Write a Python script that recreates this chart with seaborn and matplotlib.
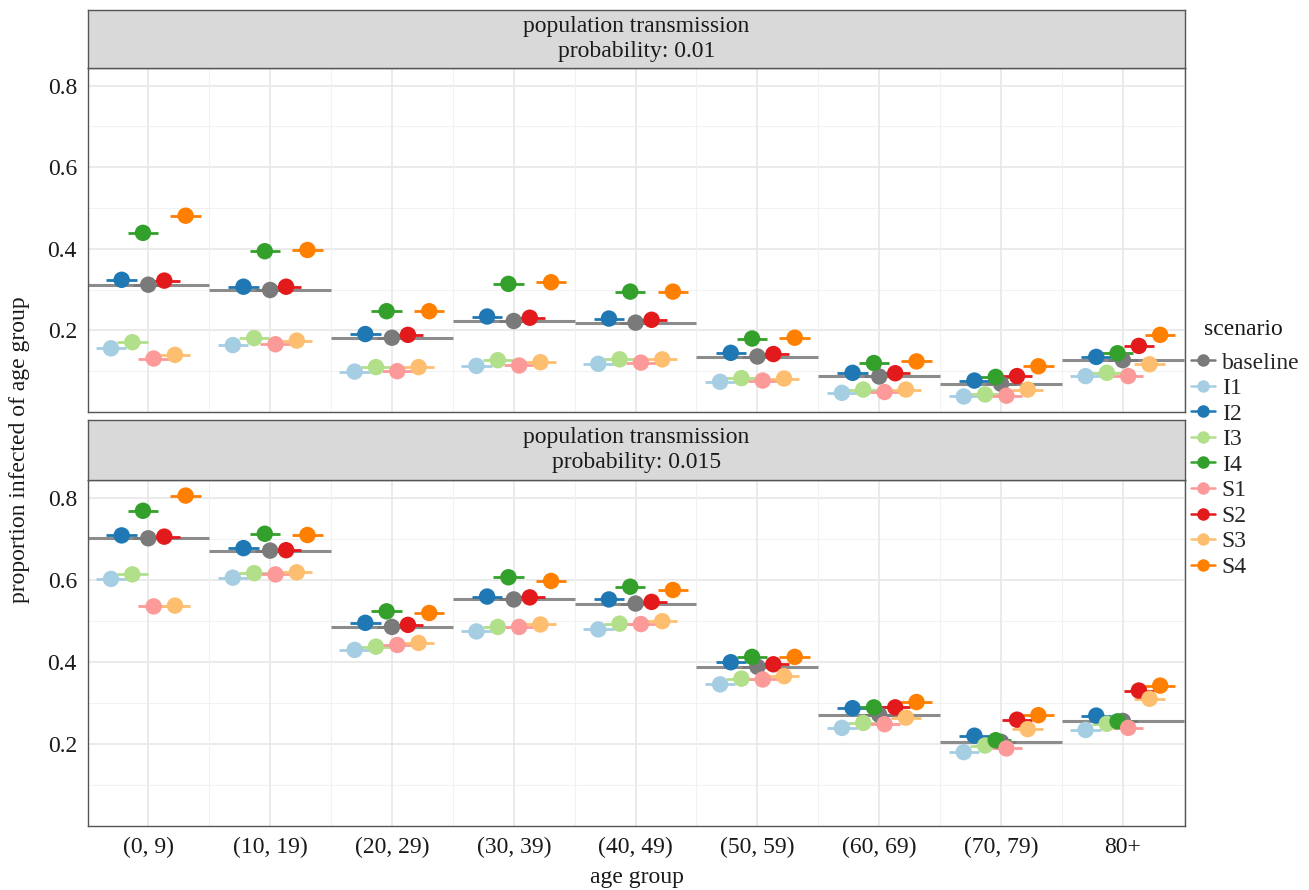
import numpy as np
import pandas as pd
import matplotlib
matplotlib.use("Agg")
import matplotlib.pyplot as plt
from matplotlib.lines import Line2D
import seaborn as sns

# ---------------- data ----------------
age_groups = ["(0, 9)", "(10, 19)", "(20, 29)", "(30, 39)", "(40, 49)",
              "(50, 59)", "(60, 69)", "(70, 79)", "80+"]
scenarios = ["baseline", "I1", "I2", "I3", "I4", "S1", "S2", "S3", "S4"]
panel_titles = ["population transmission\nprobability: 0.01",
                "population transmission\nprobability: 0.015"]

# panel 1: transmission probability 0.01
p01_baseline = [0.312, 0.299, 0.182, 0.223, 0.219, 0.136, 0.087, 0.069, 0.127]
p01_I1 = [0.156, 0.164, 0.099, 0.113, 0.118, 0.074, 0.047, 0.038, 0.088]
p01_I2 = [0.324, 0.307, 0.191, 0.234, 0.229, 0.145, 0.096, 0.077, 0.135]
p01_I3 = [0.171, 0.181, 0.110, 0.127, 0.129, 0.083, 0.055, 0.043, 0.096]
p01_I4 = [0.439, 0.394, 0.247, 0.314, 0.295, 0.180, 0.120, 0.086, 0.144]
p01_S1 = [0.131, 0.166, 0.100, 0.114, 0.121, 0.077, 0.049, 0.040, 0.088]
p01_S2 = [0.322, 0.307, 0.189, 0.231, 0.226, 0.142, 0.095, 0.088, 0.162]
p01_S3 = [0.140, 0.175, 0.110, 0.122, 0.129, 0.082, 0.055, 0.055, 0.117]
p01_S4 = [0.481, 0.397, 0.247, 0.318, 0.295, 0.182, 0.124, 0.112, 0.189]

# panel 2: transmission probability 0.015
p015_baseline = [0.701, 0.671, 0.485, 0.552, 0.542, 0.388, 0.271, 0.205, 0.256]
p015_I1 = [0.602, 0.605, 0.429, 0.474, 0.479, 0.345, 0.239, 0.180, 0.234]
p015_I2 = [0.708, 0.677, 0.495, 0.559, 0.552, 0.399, 0.287, 0.220, 0.269]
p015_I3 = [0.613, 0.616, 0.437, 0.485, 0.493, 0.359, 0.251, 0.196, 0.249]
p015_I4 = [0.768, 0.712, 0.523, 0.606, 0.583, 0.412, 0.289, 0.209, 0.255]
p015_S1 = [0.535, 0.613, 0.441, 0.485, 0.492, 0.357, 0.248, 0.189, 0.239]
p015_S2 = [0.705, 0.672, 0.490, 0.557, 0.546, 0.394, 0.289, 0.259, 0.330]
p015_S3 = [0.537, 0.618, 0.446, 0.491, 0.499, 0.365, 0.264, 0.236, 0.310]
p015_S4 = [0.805, 0.709, 0.519, 0.597, 0.575, 0.412, 0.302, 0.270, 0.342]

panel_data = [
    dict(zip(scenarios, [p01_baseline, p01_I1, p01_I2, p01_I3, p01_I4,
                         p01_S1, p01_S2, p01_S3, p01_S4])),
    dict(zip(scenarios, [p015_baseline, p015_I1, p015_I2, p015_I3, p015_I4,
                         p015_S1, p015_S2, p015_S3, p015_S4])),
]

# ---------------- style ----------------
sns.set_theme(style="white")
plt.rcParams["font.family"] = ["Liberation Serif", "DejaVu Serif"]

paired = sns.color_palette("Paired", 8)
palette = {"baseline": "#7a7a7a"}
for name, col in zip(scenarios[1:], paired):
    palette[name] = col

dodge_w = 0.0875
offsets = {"baseline": 0.0}
for i, name in enumerate(scenarios[1:]):
    offsets[name] = (i - 3.5) * dodge_w
seg_half = 0.125

W, H = 1309, 890
fig = plt.figure(figsize=(W / 100, H / 100), dpi=100)
fig.patch.set_facecolor("white")

left, right = 88 / W, 1185 / W
panels_px = [(68, 412, 10), (480, 826, 420)]  # plot top, plot bottom, strip top

FS = 17
for pi, (ptop, pbot, stop) in enumerate(panels_px):
    ax = fig.add_axes([left, 1 - pbot / H, right - left, (pbot - ptop) / H])
    data = panel_data[pi]
    rows = []
    for sc in scenarios:
        for gi, ag in enumerate(age_groups):
            rows.append({"scenario": sc, "age": ag, "gi": gi,
                         "x": gi + offsets[sc], "value": data[sc][gi]})
    df = pd.DataFrame(rows)

    # grid
    ax.set_axisbelow(True)
    for yv in [0.1, 0.3, 0.5, 0.7]:
        ax.axhline(yv, color="#f2f2f2", lw=0.8, zorder=0)
    for yv in [0.2, 0.4, 0.6, 0.8]:
        ax.axhline(yv, color="#e8e8e8", lw=1.2, zorder=0)
    for gi in range(len(age_groups)):
        ax.axvline(gi, color="#e8e8e8", lw=1.2, zorder=0)
        ax.axvline(gi + 0.5, color="#f2f2f2", lw=0.8, zorder=0)

    # baseline reference lines across each age group
    base = df[df.scenario == "baseline"]
    ax.hlines(base["value"], base["gi"] - 0.5, base["gi"] + 0.5,
              color="#8c8c8c", lw=2.2, zorder=1)

    # horizontal segments per point
    for sc in scenarios:
        sub = df[df.scenario == sc]
        ax.hlines(sub["value"], sub["x"] - seg_half, sub["x"] + seg_half,
                  color=palette[sc], lw=2.0, zorder=2)

    sns.scatterplot(data=df, x="x", y="value", hue="scenario",
                    hue_order=scenarios, palette=palette, s=140,
                    edgecolor="none", linewidth=0, legend=False, ax=ax,
                    zorder=3)

    ax.set_xlim(-0.495, 8.51)
    ax.set_ylim(0.0, 0.843)
    ax.set_yticks([0.2, 0.4, 0.6, 0.8])
    ax.set_yticklabels(["0.2", "0.4", "0.6", "0.8"], fontsize=FS, color="#1a1a1a")
    ax.set_xticks(range(len(age_groups)))
    if pi == 1:
        ax.set_xticklabels(age_groups, fontsize=FS, color="#1a1a1a")
    else:
        ax.set_xticklabels([])
    ax.tick_params(axis="both", which="both", length=4, width=0.8,
                   color="#333333", direction="out", pad=4)
    ax.tick_params(axis="x", length=4 if pi == 1 else 0)
    ax.set_xlabel("")
    ax.set_ylabel("")
    for sp in ax.spines.values():
        sp.set_visible(True)
        sp.set_color("#555555")
        sp.set_linewidth(1.0)

    # strip
    sax = fig.add_axes([left, 1 - ptop / H, right - left, (ptop - stop) / H])
    sax.set_xticks([])
    sax.set_yticks([])
    sax.set_facecolor("#d9d9d9")
    for sp in sax.spines.values():
        sp.set_color("#555555")
        sp.set_linewidth(1.0)
    sax.text(0.5, 0.5, panel_titles[pi], ha="center", va="center",
             fontsize=FS, color="#1a1a1a", transform=sax.transAxes,
             linespacing=1.2)

fig.text((left + right) / 2, 1 - 878 / H, "age group", ha="center",
         va="center", fontsize=FS, color="#1a1a1a")
fig.text(20 / W, 1 - 450 / H, "proportion infected of age group", ha="center",
         va="center", rotation=90, fontsize=FS, color="#1a1a1a")

# legend
fig.text(1204 / W, 1 - 329 / H, "scenario", ha="left", va="center",
         fontsize=FS, color="#1a1a1a")
handles = [Line2D([0], [0], color=palette[sc], marker="o", markersize=9,
                  lw=1.8, markeredgewidth=0) for sc in scenarios]
leg = fig.legend(handles, scenarios, loc="upper left",
                 bbox_to_anchor=(1191 / W, 1 - 352 / H), frameon=False,
                 fontsize=FS, handlelength=1.0,
                 handletextpad=0.3, labelspacing=0.17, borderaxespad=0,
                 borderpad=0)

fig.savefig("out.png", dpi=100, facecolor="white")
